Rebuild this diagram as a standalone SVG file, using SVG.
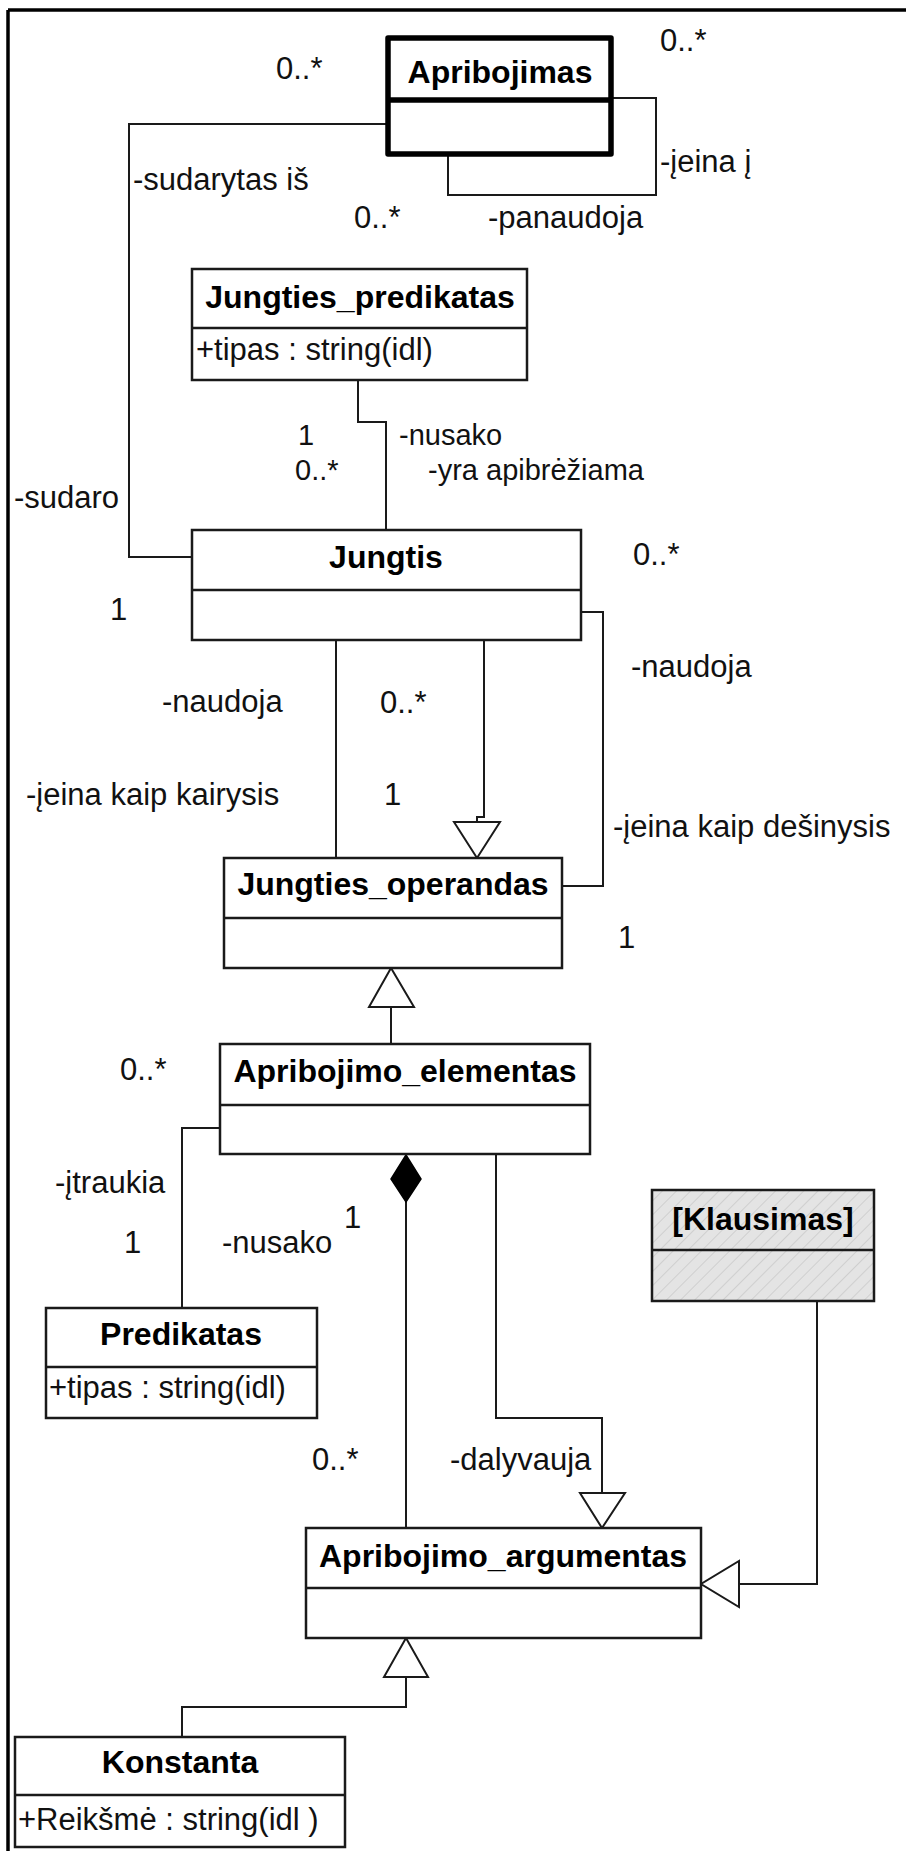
<svg xmlns="http://www.w3.org/2000/svg" width="906" height="1851" viewBox="0 0 906 1851">
  <defs>
    <style>
      .box { fill: #ffffff; stroke: #1a1a1a; stroke-width: 2.5; }
      .sep { stroke: #1a1a1a; stroke-width: 2.5; }
      .thick { fill: #ffffff; stroke: #000000; stroke-width: 5.5; stroke-linejoin: round; }
      .thicksep { stroke: #000000; stroke-width: 5.5; }
      .hatched { fill: url(#hatch); stroke: #1a1a1a; stroke-width: 2.5; }
      .edge { fill: none; stroke: #1a1a1a; stroke-width: 2; }
      .tri { fill: #ffffff; stroke: #1a1a1a; stroke-width: 2; stroke-linejoin: miter; }
      .diamond { fill: #000000; stroke: #000000; stroke-width: 1.5; }
      .title { font-family: "Liberation Sans", Arial, sans-serif; font-size: 32px; font-weight: bold; fill: #000000; text-anchor: middle; }
      .lbl { font-family: "Liberation Sans", Arial, sans-serif; font-size: 31px; fill: #111111; }
      .tight { font-size: 29px; }
      .frame { stroke: #000000; stroke-width: 3.5; }
    </style>
    <pattern id="hatch" patternUnits="userSpaceOnUse" width="10" height="10" patternTransform="rotate(45)">
      <rect width="10" height="10" fill="#e4e4e4"/>
      <line x1="0" y1="0" x2="0" y2="10" stroke="#c9c9c9" stroke-width="1.5"/>
    </pattern>
  </defs>

  <rect width="906" height="1851" fill="#ffffff"/>

  <!-- page frame -->
  <line class="frame" x1="8" y1="10" x2="906" y2="10"/>
  <line class="frame" x1="8" y1="10" x2="8" y2="1851"/>

  <!-- associations and generalizations -->
  <g id="connectors">
    <polyline class="edge" points="388,124 129,124 129,557 192,557"/>
    <polyline class="edge" points="611,98 656,98 656,195 448,195 448,154"/>
    <polyline class="edge" points="358,380 358,422 386,422 386,530"/>
    <polyline class="edge" points="581,612 603,612 603,886 562,886"/>
    <line class="edge" x1="336" y1="640" x2="336" y2="858"/>
    <polyline class="edge" points="484,640 484,817 477,817 477,822"/>
    <polygon class="tri" points="454,822 500,822 477,858"/>
    <line class="edge" x1="391" y1="1007" x2="391" y2="1044"/>
    <polygon class="tri" points="369,1007 414,1007 391,968"/>
    <polyline class="edge" points="220,1128 182,1128 182,1308"/>
    <line class="edge" x1="406" y1="1202" x2="406" y2="1528"/>
    <polygon class="diamond" points="406,1155 421,1179 406,1202 391,1179"/>
    <polyline class="edge" points="496,1154 496,1418 602,1418 602,1493"/>
    <polygon class="tri" points="580,1493 625,1493 602,1528"/>
    <polyline class="edge" points="817,1301 817,1584 739,1584"/>
    <polygon class="tri" points="739,1561 739,1607 701,1584"/>
    <polyline class="edge" points="406,1677 406,1707 182,1707 182,1737"/>
    <polygon class="tri" points="384,1677 428,1677 406,1638"/>
  </g>

  <!-- association role and multiplicity labels -->
  <g id="labels">
    <text class="lbl" x="276" y="79">0..*</text>
    <text class="lbl" x="660" y="51">0..*</text>
    <text class="lbl" x="660" y="172">-įeina į</text>
    <text class="lbl" x="133" y="190">-sudarytas iš</text>
    <text class="lbl" x="354" y="228">0..*</text>
    <text class="lbl" x="488" y="228">-panaudoja</text>
    <text class="lbl tight" x="298" y="445">1</text>
    <text class="lbl tight" x="295" y="480">0..*</text>
    <text class="lbl tight" x="399" y="445">-nusako</text>
    <text class="lbl tight" x="428" y="480">-yra apibrėžiama</text>
    <text class="lbl" x="14" y="508">-sudaro</text>
    <text class="lbl" x="633" y="565">0..*</text>
    <text class="lbl" x="110" y="620">1</text>
    <text class="lbl" x="162" y="712">-naudoja</text>
    <text class="lbl" x="380" y="713">0..*</text>
    <text class="lbl" x="631" y="677">-naudoja</text>
    <text class="lbl" x="26" y="805">-įeina kaip kairysis</text>
    <text class="lbl" x="384" y="805">1</text>
    <text class="lbl" x="613" y="837">-įeina kaip dešinysis</text>
    <text class="lbl" x="618" y="948">1</text>
    <text class="lbl" x="120" y="1080">0..*</text>
    <text class="lbl" x="55" y="1193">-įtraukia</text>
    <text class="lbl" x="124" y="1253">1</text>
    <text class="lbl" x="222" y="1253">-nusako</text>
    <text class="lbl" x="344" y="1228">1</text>
    <text class="lbl" x="312" y="1470">0..*</text>
    <text class="lbl" x="450" y="1470">-dalyvauja</text>
  </g>

  <g id="Apribojimas">
    <rect class="thick" x="388" y="38" width="223" height="116"/>
    <line class="thicksep" x1="388" y1="100" x2="611" y2="100"/>
    <text class="title" x="500" y="83">Apribojimas</text>
  </g>

  <g id="Jungties_predikatas">
    <rect class="box" x="192" y="269" width="335" height="111"/>
    <line class="sep" x1="192" y1="328" x2="527" y2="328"/>
    <text class="title" x="360" y="308">Jungties_predikatas</text>
    <text class="lbl" x="196" y="360">+tipas : string(idl)</text>
  </g>

  <g id="Jungtis">
    <rect class="box" x="192" y="530" width="389" height="110"/>
    <line class="sep" x1="192" y1="590" x2="581" y2="590"/>
    <text class="title" x="386" y="568">Jungtis</text>
  </g>

  <g id="Jungties_operandas">
    <rect class="box" x="224" y="858" width="338" height="110"/>
    <line class="sep" x1="224" y1="918" x2="562" y2="918"/>
    <text class="title" x="393" y="895">Jungties_operandas</text>
  </g>

  <g id="Apribojimo_elementas">
    <rect class="box" x="220" y="1044" width="370" height="110"/>
    <line class="sep" x1="220" y1="1105" x2="590" y2="1105"/>
    <text class="title" x="405" y="1082">Apribojimo_elementas</text>
  </g>

  <g id="Klausimas">
    <rect class="hatched" x="652" y="1190" width="222" height="111"/>
    <line class="sep" x1="652" y1="1250" x2="874" y2="1250"/>
    <text class="title" x="763" y="1230">[Klausimas]</text>
  </g>

  <g id="Predikatas">
    <rect class="box" x="46" y="1308" width="271" height="110"/>
    <line class="sep" x1="46" y1="1367" x2="317" y2="1367"/>
    <text class="title" x="181" y="1345">Predikatas</text>
    <text class="lbl" x="49" y="1398">+tipas : string(idl)</text>
  </g>

  <g id="Apribojimo_argumentas">
    <rect class="box" x="306" y="1528" width="395" height="110"/>
    <line class="sep" x1="306" y1="1588" x2="701" y2="1588"/>
    <text class="title" x="503" y="1567">Apribojimo_argumentas</text>
  </g>

  <g id="Konstanta">
    <rect class="box" x="15" y="1737" width="330" height="110"/>
    <line class="sep" x1="15" y1="1795" x2="345" y2="1795"/>
    <text class="title" x="180" y="1773">Konstanta</text>
    <text class="lbl" x="18" y="1830">+Reikšmė : string(idl )</text>
  </g>
</svg>
